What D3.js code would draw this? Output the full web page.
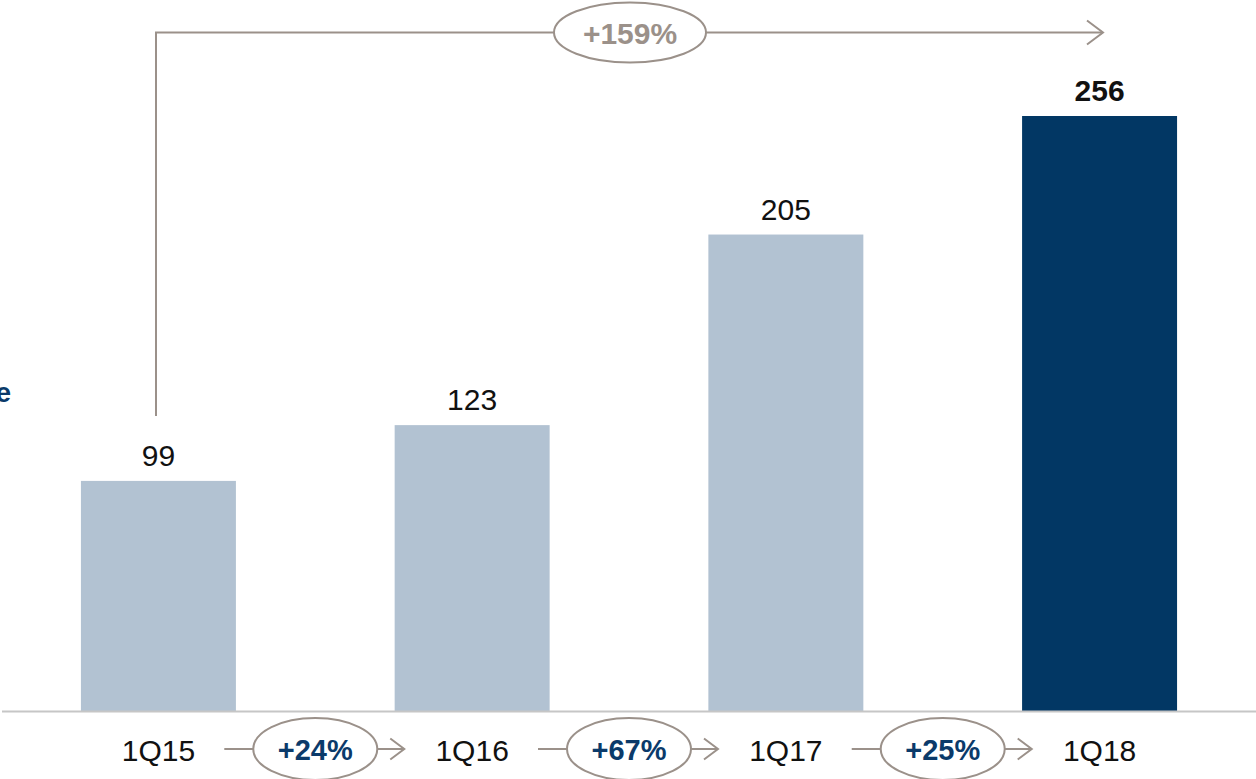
<!DOCTYPE html>
<html>
<head>
<meta charset="utf-8">
<script src="https://cdn.jsdelivr.net/npm/d3@7"></script>
<style>
  body { margin: 0; background: #fff; }
  svg { display: block; font-family: "Liberation Sans", Arial, sans-serif; }
</style>
</head>
<body>
<div id="chart"></div>
<script>
const categories = ["1Q15", "1Q16", "1Q17", "1Q18"];
const values = [99, 123, 205, 256];
const growthLabels = ["+24%", "+67%", "+25%"];
const totalGrowth = "+159%";

const width = 1256, height = 779;
const baseline = 711;

const svg = d3.select("#chart").append("svg")
  .attr("width", width)
  .attr("height", height);

const xScale = d3.scaleBand()
  .domain(categories)
  .range([0, 1258])
  .paddingInner(0.506)
  .paddingOuter(0.258);

const yScale = d3.scaleLinear().domain([0, 256]).range([baseline, 116]);

const lightBar = "#b2c2d2", darkBar = "#023764";
const gray = "#9b918a", navy = "#0b3a6a";

// bars
svg.selectAll("rect.bar")
  .data(values)
  .join("rect")
  .attr("class", "bar")
  .attr("x", (d, i) => xScale(categories[i]))
  .attr("y", d => yScale(d))
  .attr("width", xScale.bandwidth())
  .attr("height", d => baseline - yScale(d))
  .attr("fill", (d, i) => i === values.length - 1 ? darkBar : lightBar);

// value labels
svg.selectAll("text.val")
  .data(values)
  .join("text")
  .attr("class", "val")
  .attr("x", (d, i) => xScale(categories[i]) + xScale.bandwidth() / 2)
  .attr("y", d => yScale(d) - 15)
  .attr("text-anchor", "middle")
  .attr("font-size", 30)
  .attr("font-weight", (d, i) => i === values.length - 1 ? "bold" : "normal")
  .attr("fill", "#111")
  .text(d => d);

// baseline
svg.append("line")
  .attr("x1", 2).attr("x2", width)
  .attr("y1", baseline + 0.5).attr("y2", baseline + 0.5)
  .attr("stroke", "#c6c6c6").attr("stroke-width", 2);

// category labels
const cx = c => xScale(c) + xScale.bandwidth() / 2;
svg.selectAll("text.cat")
  .data(categories)
  .join("text")
  .attr("class", "cat")
  .attr("x", d => cx(d))
  .attr("y", 761)
  .attr("text-anchor", "middle")
  .attr("font-size", 30)
  .attr("fill", "#111")
  .text(d => d);

// growth bubbles between categories
const arrowHead = (g, x, y, s) => g.append("path")
  .attr("d", `M${x - s},${y - s * 0.75}L${x},${y}L${x - s},${y + s * 0.75}`)
  .attr("fill", "none").attr("stroke", gray).attr("stroke-width", 2);

growthLabels.forEach((lab, i) => {
  const mid = (cx(categories[i]) + cx(categories[i + 1])) / 2;
  const g = svg.append("g");
  const y = 749;
  g.append("line")
    .attr("x1", mid - 91).attr("x2", mid - 62)
    .attr("y1", y).attr("y2", y)
    .attr("stroke", gray).attr("stroke-width", 2);
  g.append("line")
    .attr("x1", mid + 62).attr("x2", mid + 88)
    .attr("y1", y).attr("y2", y)
    .attr("stroke", gray).attr("stroke-width", 2);
  arrowHead(g, mid + 89, y, 14);
  g.append("ellipse")
    .attr("cx", mid).attr("cy", y)
    .attr("rx", 62).attr("ry", 31)
    .attr("fill", "#fff").attr("stroke", gray).attr("stroke-width", 2);
  g.append("text")
    .attr("x", mid).attr("y", y + 11)
    .attr("text-anchor", "middle")
    .attr("font-size", 29).attr("font-weight", "bold")
    .attr("fill", navy)
    .text(lab);
});

// total growth bracket
const topY = 32.5;
const startX = 156;
svg.append("path")
  .attr("d", `M${startX},416V${topY}H1102`)
  .attr("fill", "none").attr("stroke", gray).attr("stroke-width", 2);
arrowHead(svg, 1103, topY, 16);
svg.append("ellipse")
  .attr("cx", 630).attr("cy", topY)
  .attr("rx", 76).attr("ry", 30)
  .attr("fill", "#fff").attr("stroke", gray).attr("stroke-width", 2);
svg.append("text")
  .attr("x", 630).attr("y", topY + 11)
  .attr("text-anchor", "middle")
  .attr("font-size", 30).attr("font-weight", "bold")
  .attr("fill", gray)
  .text(totalGrowth);

// side label, clipped by the left edge as in the source
svg.append("text")
  .attr("x", 11).attr("y", 402)
  .attr("text-anchor", "end")
  .attr("font-size", 28).attr("font-weight", "bold")
  .attr("fill", navy)
  .text("e");
</script>
</body>
</html>
